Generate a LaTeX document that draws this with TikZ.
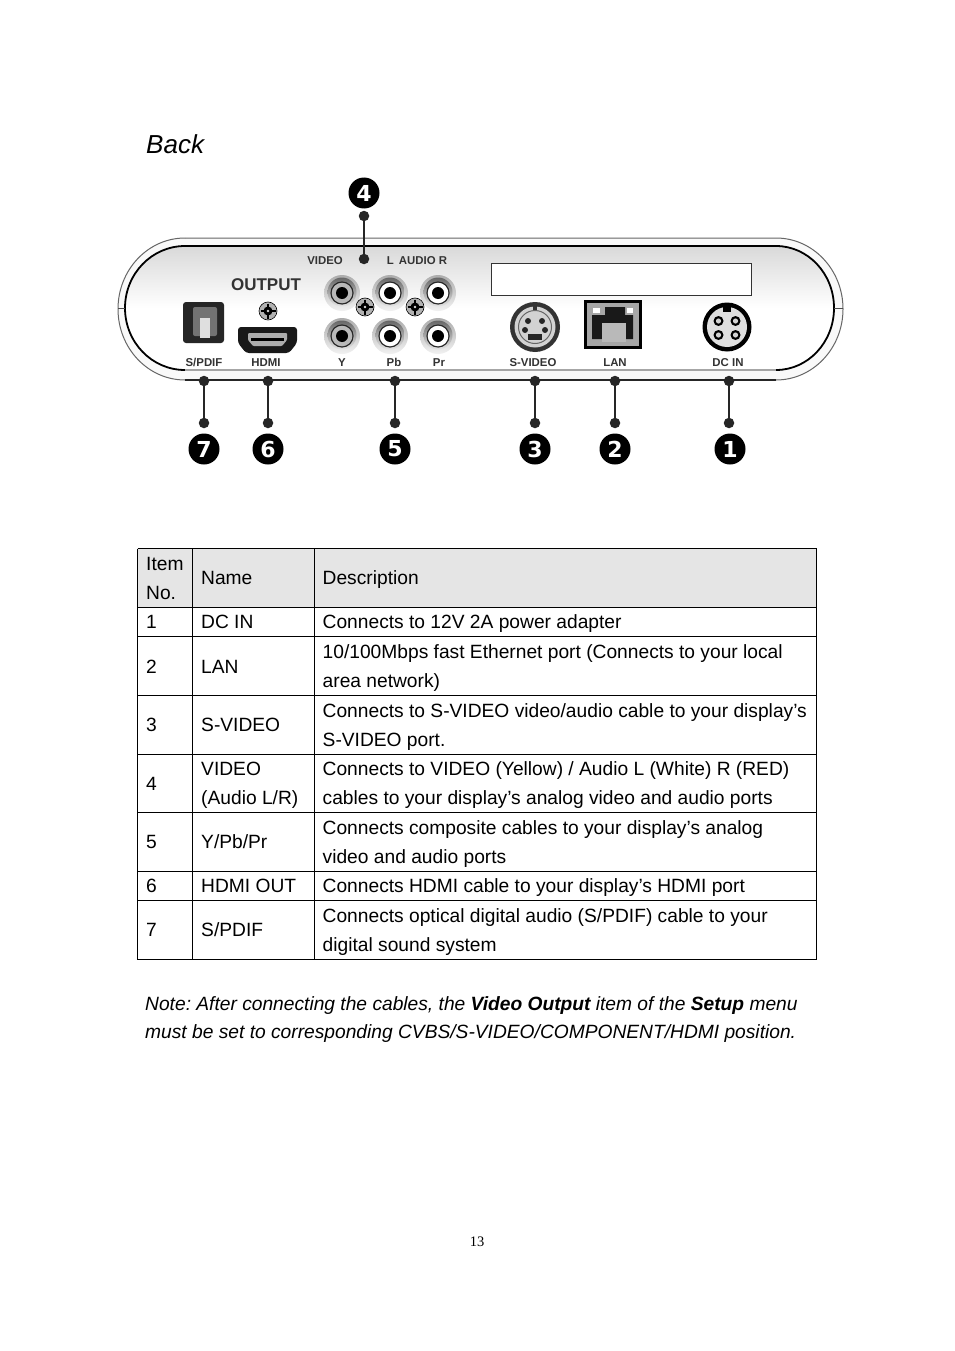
\documentclass[tikz,border=0pt]{standalone}
\usepackage{fontspec}
\setmainfont{Liberation Sans}
\newfontfamily\pagenofont{Liberation Serif}
\newfontfamily\ballfont{DejaVu Sans}
\usepackage{tikz}
\newcommand{\tabfont}{\fontsize{19.2}{24}\selectfont\frenchspacing}
\newcommand{\tinylabel}{\fontsize{11.4}{12}\selectfont\bfseries}
% one RCA socket: centre, colour of the ring
\newcommand{\rcajack}[2]{
    \shade[top color=gray!65, bottom color=gray!10] (#1) circle (18);
    \shade[top color=black!60, bottom color=gray!20] ($(#1)+(0,-1)$) circle (14.5);
    \fill[black!85] (#1) circle (11.6);
    \fill[#2] (#1) circle (10.3);
    \fill[black] (#1) circle (6);
}
% one cross-head screw
\newcommand{\screwhead}[1]{
    \fill[gray!60] (#1) circle (9);
    \draw[black, line width=0.6] (#1) circle (9);
    \fill[black] (#1) circle (4.5);
    \draw[black, line width=2.6] ($(#1)+(-7.5,0)$) -- ($(#1)+(7.5,0)$);
    \draw[black, line width=2.6] ($(#1)+(0,-7.5)$) -- ($(#1)+(0,7.5)$);
    \fill[gray!30] (#1) circle (1.4);
}
\usetikzlibrary{calc}

\begin{document}
\begin{tikzpicture}[x=1pt, y=-1pt,
    numball/.style={circle, fill=black, inner sep=0pt, minimum size=31pt, text=white, font=\ballfont\fontsize{22}{22}\selectfont\bfseries},
    calldot/.style={circle, fill=black!85, inner sep=0pt, minimum size=10.5pt},
    tabtext/.style={anchor=base west, inner sep=0pt, font=\tabfont},
    paneltext/.style={anchor=base, inner sep=0pt, font=\tinylabel, text=black!80},
    callline/.style={black!85, line width=1.5pt},
    grid/.style={black, line width=0.8pt}]
    \useasboundingbox (0, 0) rectangle (954, 1351);
    \fill[white] (0, 0) rectangle (954, 1351);

    % The heading
    \node[anchor=base west, inner sep=0pt, font=\fontsize{26}{30}\selectfont\itshape] (backtitle) at (146, 153.5) {Back};

    % The panel
    \fill[gray!5] (185, 238) -- (776, 238) arc[start angle=270, end angle=90, x radius=-67, y radius=71] -- (185, 380) arc[start angle=90, end angle=270, x radius=67, y radius=71] -- cycle;
    \shade[top color=gray!30, bottom color=white, middle color=white] (185, 246) -- (776, 246) arc[start angle=270, end angle=90, x radius=-58, y radius=62] -- (185, 370) arc[start angle=90, end angle=270, x radius=60, y radius=62] -- cycle;
    \draw[black!60, line width=1pt] (185, 238) -- (776, 238) arc[start angle=270, end angle=90, x radius=-67, y radius=71];
    \draw[black!60, line width=1pt] (185, 238) arc[start angle=270, end angle=90, x radius=67, y radius=71];
    \draw[black!85, line width=1.2pt] (185, 380) -- (776, 380);
    \draw[black, line width=1.8pt] (185, 370) arc[start angle=90, end angle=270, x radius=60, y radius=62] -- (776, 246) arc[start angle=270, end angle=90, x radius=-58, y radius=62];
    \draw[gray!70, line width=1.2pt] (185, 370) -- (776, 370);
    \draw[black!70, line width=0.7pt] (118, 308) -- (125, 308);
    \draw[black!70, line width=0.7pt] (834, 308) -- (843, 308);
    \draw[black!80, line width=1pt, fill=white] (491.5, 263.5) rectangle (751, 295.5);

    % S/PDIF socket
    \fill[black!85, rounded corners=3] (183, 302) rectangle (224, 343);
    \fill[black!55, rounded corners=2] (193, 307) rectangle (217, 336);
    \fill[gray!25] (200, 318) rectangle (210, 338);

    % HDMI socket
    \screwhead{268, 311}
    \fill[black!90, rounded corners=3] (238, 327) -- (297, 327) -- (297, 343) -- (289, 353) -- (246, 353) -- (238, 343) -- cycle;
    \fill[gray!65, rounded corners=1] (248, 333) -- (287, 333) -- (287, 340) -- (282, 346) -- (253, 346) -- (248, 340) -- cycle;
    \fill[black] (251, 338) rectangle (284, 341);

    % RCA sockets
    \foreach \ypos in {293, 336} {
        \rcajack{342, \ypos}{gray!55}
        \rcajack{390, \ypos}{white}
        \rcajack{438, \ypos}{white}
    }
    \screwhead{365, 307}
    \screwhead{415, 307}

    % S-Video socket
    \fill[black!80] (535, 327) circle (25);
    \fill[gray!35] (535, 327) circle (20.5);
    \draw[black!60, line width=1pt] (535, 327) circle (16.5);
    \foreach \dx/\dy in {-7/-6, 7/-6, -10/3, 10/3} {
        \fill[black!85] (535+\dx, 327+\dy) circle (3);
    }
    \fill[black!85] (528, 334) rectangle (542, 340);
    \fill[black!80] (533, 303) rectangle (537, 310);

    % LAN socket
    \fill[black] (584, 300) rectangle (642, 349);
    \fill[gray!70] (587, 303) rectangle (639, 346);
    \fill[black!90] (592, 315) -- (605, 315) -- (605, 307) -- (625, 307) -- (625, 315) -- (633, 315) -- (633, 339) -- (592, 339) -- cycle;
    \fill[gray!55] (602, 323) rectangle (626, 342);
    \fill[white] (593, 308) rectangle (600, 313);
    \fill[white] (627, 308) rectangle (633, 313);

    % DC socket
    \fill[black] (727, 327) circle (24.5);
    \fill[gray!25] (727, 327) circle (20);
    \fill[black] (723, 303) rectangle (731, 312);
    \foreach \dx/\dy in {-8.5/-6, 8.5/-6, -8.5/8, 8.5/8} {
        \fill[black] (727+\dx, 327+\dy) circle (5);
        \fill[gray!35] (727+\dx, 327+\dy) circle (2.6);
    }

    % Panel labels
    \node[paneltext, font=\fontsize{17}{18}\selectfont\bfseries] (outputlbl) at (266, 290) {OUTPUT};
    \node[paneltext] (videolbl) at (325, 264) {VIDEO};
    \node[paneltext] (audiolbl) at (417, 264) {L\hspace{5pt}AUDIO R};
    \node[paneltext] (spdiflbl) at (204, 366) {S/PDIF};
    \node[paneltext] (hdmilbl) at (266, 366) {HDMI};
    \node[paneltext] (ylbl) at (342, 366) {Y};
    \node[paneltext] (pblbl) at (394, 366) {Pb};
    \node[paneltext] (prlbl) at (439, 366) {Pr};
    \node[paneltext] (svideolbl) at (533, 366) {S-VIDEO};
    \node[paneltext] (lanlbl) at (615, 366) {LAN};
    \node[paneltext] (dcinlbl) at (728, 366) {DC IN};

    % Callouts below the panel
    \foreach \name/\xpos/\ballx/\num in {seven/204/204/7, six/268/268/6, five/395/395/5, three/535/535/3, two/615/615/2, one/729/730/1} {
        \node[calldot] (\name top) at (\xpos, 381) {};
        \node[calldot] (\name low) at (\xpos, 423) {};
        \node[numball] (\name ball) at (\ballx, 449) {\num};
        \draw[callline] (\name top) -- (\name low);
    }

    % Callout above the panel
    \node[numball] (fourball) at (364, 193) {4};
    \node[calldot] (fourtop) at (364, 216) {};
    \node[calldot] (fourlow) at (364, 259) {};
    \draw[callline] (fourtop) -- (fourlow);

    % The table
    \fill[gray!20] (137.5, 548.5) rectangle (816.5, 607.5);
    \foreach \ypos in {548.5, 607.5, 636.5, 695.5, 754.5, 812.5, 871.5, 900.5, 959.5} {
        \draw[grid] (137.5, \ypos) -- (816.5, \ypos);
    }
    \foreach \xpos in {137.5, 192.5, 314.5, 816.5} {
        \draw[grid] (\xpos, 548.5) -- (\xpos, 959.5);
    }

    \node[tabtext] (headitem) at (146, 570) {Item};
    \node[tabtext] (headno) at (146, 599) {No.};
    \node[tabtext] (headname) at (201, 584) {Name};
    \node[tabtext] (headdesc) at (322.5, 584) {Description};

    \node[tabtext] (numone) at (146, 628) {1};
    \node[tabtext] (nameone) at (201, 628) {DC IN};
    \node[tabtext] (descone) at (322.5, 628) {Connects to 12V 2A power adapter};

    \node[tabtext] (numtwo) at (146, 673) {2};
    \node[tabtext] (nametwo) at (201, 673) {LAN};
    \node[tabtext] (desctwoa) at (322.5, 658) {10/100Mbps fast Ethernet port (Connects to your local};
    \node[tabtext] (desctwob) at (322.5, 687) {area network)};

    \node[tabtext] (numthree) at (146, 731) {3};
    \node[tabtext] (namethree) at (201, 731) {S-VIDEO};
    \node[tabtext] (descthreea) at (322.5, 717) {Connects to S-VIDEO video/audio cable to your display’s};
    \node[tabtext] (descthreeb) at (322.5, 746) {S-VIDEO port.};

    \node[tabtext] (numfour) at (146, 790) {4};
    \node[tabtext] (namefoura) at (201, 775) {VIDEO};
    \node[tabtext] (namefourb) at (201, 804) {(Audio L/R)};
    \node[tabtext] (descfoura) at (322.5, 775) {Connects to VIDEO (Yellow) / Audio L (White) R (RED)};
    \node[tabtext] (descfourb) at (322.5, 804) {cables to your display’s analog video and audio ports};

    \node[tabtext] (numfive) at (146, 848) {5};
    \node[tabtext] (namefive) at (201, 848) {Y/Pb/Pr};
    \node[tabtext] (descfivea) at (322.5, 834) {Connects composite cables to your display’s analog};
    \node[tabtext] (descfiveb) at (322.5, 863) {video and audio ports};

    \node[tabtext] (numsix) at (146, 892) {6};
    \node[tabtext] (namesix) at (201, 892) {HDMI OUT};
    \node[tabtext] (descsix) at (322.5, 892) {Connects HDMI cable to your display’s HDMI port};

    \node[tabtext] (numseven) at (146, 936) {7};
    \node[tabtext] (nameseven) at (201, 936) {S/PDIF};
    \node[tabtext] (descsevena) at (322.5, 922) {Connects optical digital audio (S/PDIF) cable to your};
    \node[tabtext] (descsevenb) at (322.5, 951) {digital sound system};

    % Note below the table
    \node[tabtext, font=\tabfont\itshape] (notea) at (145, 1010) {Note: After connecting the cables, the \textbf{Video Output} item of the \textbf{Setup} menu};
    \node[tabtext, font=\tabfont\itshape] (noteb) at (145, 1038) {must be set to corresponding CVBS/S-VIDEO/COMPONENT/HDMI position.};

    % Page number
    \node[inner sep=0pt, font=\pagenofont\fontsize{14.5}{16}\selectfont] (pageno) at (477, 1242) {13};
\end{tikzpicture}
\end{document}
